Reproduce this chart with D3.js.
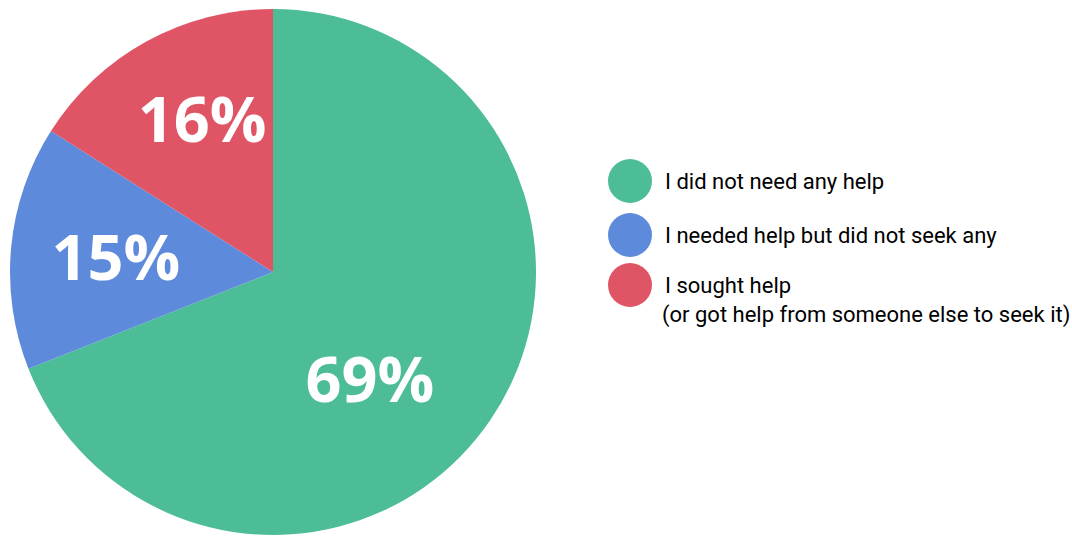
<!DOCTYPE html>
<html>
<head>
<meta charset="utf-8">
<script src="https://cdn.jsdelivr.net/npm/d3@7"></script>
<style>
  html, body { margin: 0; padding: 0; background: #ffffff; }
  svg { display: block; }
</style>
</head>
<body>
<svg id="chart" width="1072" height="536"></svg>
<script>
// Survey responses: did people need / seek help
const categories = [
  "I did not need any help",
  "I needed help but did not seek any",
  "I sought help"
];
const categorySubLines = [
  "",
  "",
  "(or got help from someone else to seek it)"
];
const shares = [69, 15, 16];
const colors = ["#4DBD98", "#5E8ADB", "#E05565"];

const svg = d3.select("#chart");
const cx = 273, cy = 272, R = 263;

const pie = d3.pie().sort(null).value(d => d.value);
const data = categories.map((c, i) => ({ name: c, sub: categorySubLines[i], value: shares[i], color: colors[i] }));
const arcs = pie(data);

const arc = d3.arc().innerRadius(0).outerRadius(R);

const g = svg.append("g").attr("transform", `translate(${cx},${cy})`);

g.selectAll("path.slice")
  .data(arcs)
  .enter().append("path")
  .attr("class", "slice")
  .attr("d", arc)
  .attr("fill", d => d.data.color);

// Label placement: radial distance and angular nudge per slice (fractions of R / radians)
const labelPlacement = [
  { r: 0.55, da: 0.24 },
  { r: 0.60, da: 0.0 },
  { r: 0.64, da: 0.068 }
];
g.selectAll("text.pct")
  .data(arcs)
  .enter().append("text")
  .attr("class", "pct")
  .attr("transform", (d, i) => {
    const a = (d.startAngle + d.endAngle) / 2 + labelPlacement[i].da;
    const r = labelPlacement[i].r * R;
    return `translate(${Math.sin(a) * r},${-Math.cos(a) * r})`;
  })
  .attr("text-anchor", "middle")
  .attr("dy", "0.36em")
  .attr("fill", "#ffffff")
  .attr("font-family", "'Open Sans', sans-serif")
  .attr("font-weight", 700)
  .attr("font-size", 63)
  .text(d => d.data.value + "%");

// Legend
const legend = svg.append("g").attr("transform", "translate(630,181)");
const rowY = [0, 54, 104];
const items = legend.selectAll("g.item")
  .data(data)
  .enter().append("g")
  .attr("class", "item")
  .attr("transform", (d, i) => `translate(0,${rowY[i]})`);

items.append("circle")
  .attr("r", 22)
  .attr("fill", d => d.color);

items.append("text")
  .attr("x", 35)
  .attr("y", 8)
  .attr("font-family", "Roboto, sans-serif")
  .attr("font-size", 22)
  .attr("fill", "#000000")
  .text(d => d.name);

items.filter(d => d.sub !== "")
  .append("text")
  .attr("x", 32)
  .attr("y", 37)
  .attr("font-family", "Roboto, sans-serif")
  .attr("font-size", 22)
  .attr("fill", "#000000")
  .text(d => d.sub);
</script>
</body>
</html>
